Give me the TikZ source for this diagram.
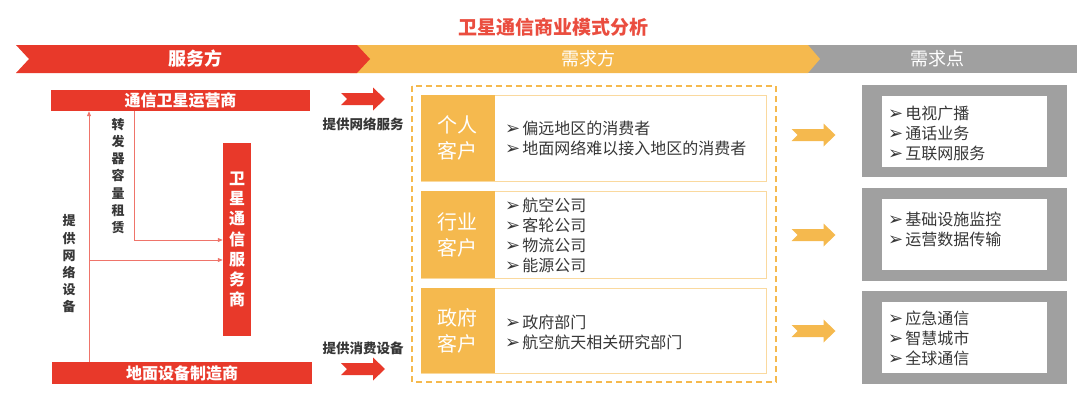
\documentclass[tikz,border=0pt]{standalone}
\usepackage{fontspec}
\setmainfont{Noto Sans CJK SC}
\newfontfamily\symfont{DejaVu Sans}
\usetikzlibrary{positioning, arrows.meta}
\definecolor{satred}{RGB}{232,57,42}
\definecolor{satorange}{RGB}{245,185,78}
\definecolor{satgray}{RGB}{160,160,160}
\definecolor{sattext}{RGB}{55,55,55}
\newcommand{\bulletmark}{{\symfont\fontsize{18}{18}\selectfont ➢}\hspace{2pt}}
\tikzset{
    bannerlbl/.style={text=white, font=\fontsize{18}{20}\selectfont},
    redbar/.style={rectangle, fill=satred, text=white, inner sep=0pt, font=\fontsize{16}{20}\selectfont\bfseries},
    flowlbl/.style={align=center, inner sep=0pt, text=sattext, font=\fontsize{13}{17.2}\selectfont\bfseries},
    sidelbl/.style={inner sep=0pt, text=sattext, font=\fontsize{13.5}{16}\selectfont\bfseries},
    link/.style={-{Triangle[length=5pt, width=4pt]}, color=satred!70, line width=0.8pt},
    rowbox/.style={rectangle, draw=satorange!55, fill=white, line width=1pt, minimum width=345pt, inner sep=0pt},
    rowhead/.style={rectangle, fill=satorange, text=white, minimum width=74pt, inner sep=0pt, align=center, font=\fontsize{20}{26}\selectfont},
    itemlist/.style={anchor=west, inner sep=0pt, align=left, text=sattext, font=\fontsize{16}{20}\selectfont},
    needbox/.style={rectangle, fill=satgray, minimum width=205pt, inner sep=0pt},
    needin/.style={rectangle, fill=white, minimum width=165pt, minimum height=71pt, inner sep=0pt},
    % Notched block arrow
    notcharrow/.pic={
        \fill[#1] (-22,-6) -- (10,-6) -- (10,-11.5) -- (22,0) -- (10,11.5) -- (10,6) -- (-22,6) -- (-16,0) -- cycle;
    }
}

\begin{document}
\begin{tikzpicture}[x=1pt, y=-1pt]
            \useasboundingbox (0,0) rectangle (1080,407);

            % Title
            \node[text=satred!90!white, font=\fontsize{19}{22}\selectfont\bfseries] (title) at (553,27) {卫星通信商业模式分析};

            % Banner chevrons
            \fill[satgray] (800,45) -- (1077,45) -- (1077,73) -- (800,73) -- cycle;
            \fill[satorange] (350,45) -- (808,45) -- (820,59) -- (808,73) -- (350,73) -- cycle;
            \fill[satred] (16,45) -- (357,45) -- (370,59) -- (357,73) -- (16,73) -- (29,59) -- cycle;
            \node[bannerlbl, font=\fontsize{18}{20}\selectfont\bfseries] (supply) at (195,59) {服务方};
            \node[bannerlbl] (demand) at (588,59) {需求方};
            \node[bannerlbl] (needs) at (937,59) {需求点};

            % Service side
            \node[redbar, minimum width=259pt, minimum height=21pt] (op) at (180.5,100.5) {通信卫星运营商};
            \node[redbar, minimum width=260pt, minimum height=22pt] (mfr) at (182,373) {地面设备制造商};
            \node[redbar, minimum width=28pt, minimum height=193pt, align=center, font=\fontsize{16}{20.3}\selectfont\bfseries] (svc) at (237,239.5) {卫\\星\\通\\信\\服\\务\\商};

            \coordinate (eqbase) at (89,362);
            \coordinate (leasebase) at (134,111);
            \draw[link] (eqbase) -- (eqbase |- op.south);
            \draw[link] (eqbase |- 0,260) -- (svc.west |- 0,260);
            \draw[link] (leasebase) |- (svc.west |- 0,240);
            \node[flowlbl] (lease) at (118,176) {转\\发\\器\\容\\量\\租\\赁};
            \node[flowlbl] (equip) at (69,264) {提\\供\\网\\络\\设\\备};

            % Service arrows
            \pic at (363,99) {notcharrow=satred};
            \pic at (363,369) {notcharrow=satred};
            \node[sidelbl] (netsvc) at (363,124) {提供网络服务};
            \node[sidelbl] (devsvc) at (363,348) {提供消费设备};

            % Demand side
            \draw[satorange, line width=1.2pt, dash pattern=on 6pt off 4pt] (412,86) rectangle (776,382);

            \node[rowbox, minimum height=86pt] (row1) at (593.5,138) {};
            \node[rowhead, minimum height=86pt, anchor=west] (head1) at (row1.west) {个人\\客户};
            \node[itemlist] (list1) at (505,138) {\bulletmark 偏远地区的消费者\\\bulletmark 地面网络难以接入地区的消费者};

            \node[rowbox, minimum height=87pt] (row2) at (593.5,234.5) {};
            \node[rowhead, minimum height=87pt, anchor=west] (head2) at (row2.west) {行业\\客户};
            \node[itemlist] (list2) at (505,235) {\bulletmark 航空公司\\\bulletmark 客轮公司\\\bulletmark 物流公司\\\bulletmark 能源公司};

            \node[rowbox, minimum height=85pt] (row3) at (593.5,330.5) {};
            \node[rowhead, minimum height=85pt, anchor=west] (head3) at (row3.west) {政府\\客户};
            \node[itemlist] (list3) at (505,332) {\bulletmark 政府部门\\\bulletmark 航空航天相关研究部门};

            % Demand arrows
            \pic at (813.5,135) {notcharrow=satorange};
            \pic at (813.5,235) {notcharrow=satorange};
            \pic at (813.5,331) {notcharrow=satorange};

            % Need points
            \node[needbox, minimum height=92pt] (need1) at (964.5,131) {};
            \node[needin] (in1) at (need1) {};
            \node[itemlist] (pts1) at (888,133) {\bulletmark 电视广播\\\bulletmark 通话业务\\\bulletmark 互联网服务};

            \node[needbox, minimum height=93pt] (need2) at (964.5,234.5) {};
            \node[needin] (in2) at (need2) {};
            \node[itemlist] (pts2) at (888,229) {\bulletmark 基础设施监控\\\bulletmark 运营数据传输};

            \node[needbox, minimum height=93pt] (need3) at (964.5,337.5) {};
            \node[needin] (in3) at (need3) {};
            \node[itemlist] (pts3) at (888,338) {\bulletmark 应急通信\\\bulletmark 智慧城市\\\bulletmark 全球通信};
        \end{tikzpicture}
\end{document}
